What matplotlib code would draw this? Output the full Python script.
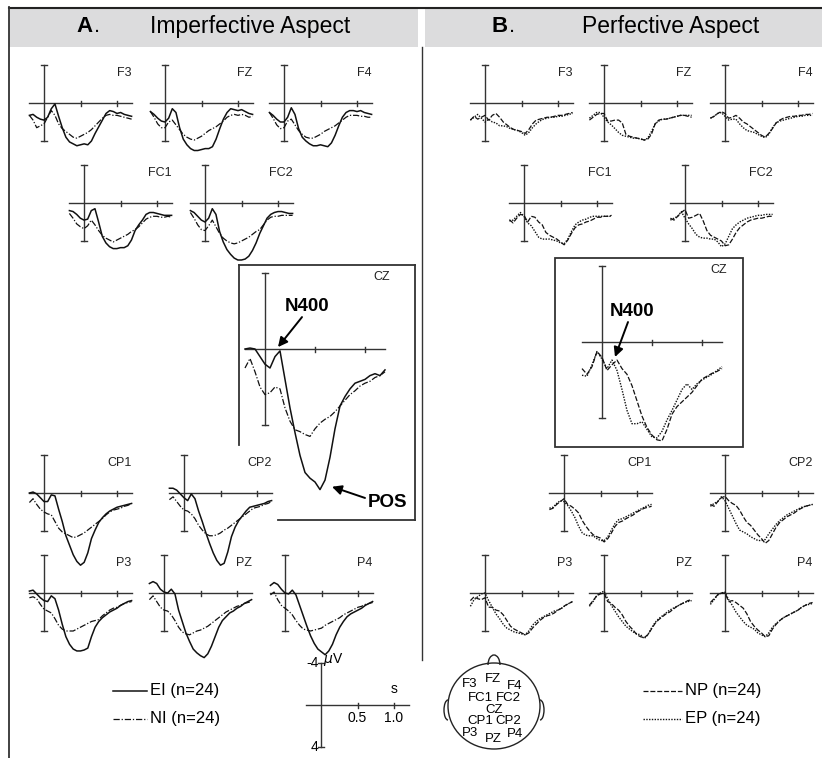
import matplotlib
matplotlib.use("Agg")
import matplotlib.pyplot as plt
from matplotlib.patches import Rectangle, Ellipse, Arc

plt.rcParams['font.family'] = ['Liberation Sans', 'DejaVu Sans']

# sample times (s)
T = [-0.2, -0.15, -0.1, -0.05, 0.0, 0.05, 0.1, 0.15, 0.2, 0.25, 0.3, 0.35, 0.4, 0.45,
     0.5, 0.55, 0.6, 0.65, 0.7, 0.75, 0.8, 0.85, 0.9, 0.95, 1.0, 1.05, 1.1, 1.15, 1.2]

# amplitudes in microvolts (negative up)
EI = {
    'F3': [1.3, 1.2, 1.5, 1.7, 1.8, 1.5, 0.6, 0.1, 1.4, 2.6, 3.6, 4.1, 4.3, 4.5, 4.4, 4.3, 4.4, 4.0, 3.2, 2.5, 1.8, 1.1, 0.8, 0.9, 1.1, 1.0, 1.2, 1.3, 1.4],
    'FZ': [0.9, 1.2, 1.6, 1.9, 2.0, 1.6, 0.6, 1.0, 2.6, 3.8, 4.4, 4.8, 5.0, 5.0, 4.9, 4.8, 4.8, 4.6, 3.8, 2.7, 1.7, 1.0, 0.6, 0.7, 0.8, 0.7, 0.9, 1.1, 1.2],
    'F4': [1.0, 1.3, 1.7, 2.0, 2.0, 1.5, 0.5, 1.2, 2.7, 3.6, 4.0, 4.3, 4.5, 4.5, 4.4, 4.5, 4.6, 4.2, 3.4, 2.4, 1.5, 1.0, 0.8, 0.8, 0.9, 0.8, 1.0, 1.1, 1.2],
    'FC1': [0.8, 0.9, 1.2, 1.6, 1.8, 1.7, 0.8, 0.6, 2.0, 3.5, 4.2, 4.6, 4.8, 4.8, 4.7, 4.7, 4.5, 3.9, 2.9, 2.3, 1.8, 1.2, 1.0, 1.0, 1.1, 1.2, 1.3, 1.3, 1.3],
    'FC2': [0.8, 1.0, 1.4, 1.8, 2.0, 1.6, 0.6, 1.2, 3.0, 4.1, 4.9, 5.4, 5.8, 6.0, 6.0, 5.9, 5.6, 5.0, 4.2, 3.2, 2.4, 1.6, 1.2, 1.0, 0.9, 0.9, 1.0, 1.1, 1.1],
    'CZ': [0.0, -0.05, 0.0, 0.4, 0.8, 1.0, 0.4, 0.1, 1.6, 3.1, 4.4, 5.6, 6.5, 6.8, 7.0, 7.4, 6.9, 5.7, 4.2, 3.0, 2.5, 2.1, 1.8, 1.7, 1.6, 1.4, 1.3, 1.4, 1.1],
    'CP1': [0.0, -0.1, 0.1, 0.5, 0.9, 0.9, 0.2, 0.3, 1.7, 3.0, 4.5, 5.5, 6.5, 7.2, 7.6, 7.3, 6.3, 4.8, 3.9, 3.1, 2.6, 2.2, 1.9, 1.7, 1.5, 1.4, 1.3, 1.2, 1.1],
    'CP2': [-0.5, -0.5, -0.3, 0.1, 0.5, 0.8, 0.1, 0.6, 1.9, 3.0, 4.2, 5.3, 6.3, 7.1, 7.6, 7.4, 6.2, 4.6, 3.6, 2.9, 2.4, 1.9, 1.5, 1.4, 1.3, 1.2, 1.1, 0.9, 0.8],
    'P3': [-0.2, -0.3, 0.1, 0.5, 0.8, 0.9, 0.3, 0.6, 1.8, 3.3, 4.6, 5.4, 5.9, 6.1, 6.1, 6.0, 5.8, 4.6, 3.6, 3.0, 2.6, 2.3, 2.0, 1.8, 1.6, 1.3, 1.1, 0.9, 0.8],
    'PZ': [-1.0, -1.2, -1.0, -0.4, -0.1, 0.0, -0.4, 0.1, 1.8, 3.0, 4.2, 5.1, 5.9, 6.3, 6.6, 6.8, 6.4, 5.6, 4.6, 3.6, 2.9, 2.5, 2.1, 1.9, 1.6, 1.4, 1.1, 0.9, 0.7],
    'P4': [-0.8, -1.1, -0.9, -0.4, 0.0, 0.1, -0.3, 0.2, 1.3, 2.4, 3.5, 4.5, 5.3, 5.9, 6.2, 6.5, 6.1, 5.4, 4.4, 3.6, 3.0, 2.5, 2.2, 2.0, 1.8, 1.6, 1.3, 1.1, 0.9],
}
NI = {
    'F3': [1.3, 1.8, 2.6, 2.4, 2.2, 1.5, 0.8, 1.3, 2.2, 2.7, 3.0, 3.3, 3.6, 3.7, 3.5, 3.3, 3.1, 2.8, 2.4, 2.0, 1.6, 1.3, 1.2, 1.3, 1.3, 1.4, 1.5, 1.6, 1.7],
    'FZ': [0.9, 1.5, 2.2, 2.6, 2.6, 2.0, 1.8, 2.3, 2.8, 3.3, 3.6, 3.8, 3.9, 3.7, 3.5, 3.2, 2.9, 2.7, 2.5, 2.2, 1.9, 1.5, 1.3, 1.2, 1.3, 1.2, 1.3, 1.5, 1.4],
    'F4': [1.0, 1.6, 2.3, 2.7, 2.6, 1.9, 1.7, 2.3, 2.9, 3.3, 3.6, 3.7, 3.7, 3.5, 3.3, 3.0, 2.8, 2.6, 2.4, 2.1, 1.8, 1.5, 1.3, 1.3, 1.3, 1.4, 1.4, 1.5, 1.5],
    'FC1': [1.1, 1.6, 2.2, 2.5, 2.7, 2.4, 1.8, 2.3, 2.9, 3.4, 3.7, 3.9, 4.1, 3.9, 3.7, 3.5, 3.3, 3.0, 2.8, 2.5, 2.1, 1.7, 1.5, 1.4, 1.4, 1.5, 1.5, 1.4, 1.5],
    'FC2': [1.0, 1.6, 2.3, 2.8, 2.9, 2.4, 1.8, 2.5, 3.2, 3.7, 4.0, 4.2, 4.3, 4.2, 4.0, 3.8, 3.6, 3.3, 3.0, 2.8, 2.3, 1.8, 1.5, 1.4, 1.4, 1.3, 1.3, 1.3, 1.3],
    'CZ': [1.0, 0.5, 1.2, 2.0, 2.4, 2.3, 2.0, 2.1, 3.1, 3.8, 4.25, 4.35, 4.5, 4.6, 4.2, 3.9, 3.7, 3.55, 3.3, 3.0, 2.7, 2.4, 2.2, 1.95, 1.8, 1.7, 1.5, 1.4, 1.2],
    'CP1': [1.0, 0.6, 1.2, 1.7, 2.0, 2.2, 2.3, 3.0, 3.7, 4.1, 4.3, 4.5, 4.7, 4.6, 4.4, 4.2, 3.9, 3.6, 3.3, 3.0, 2.7, 2.3, 2.0, 1.8, 1.7, 1.6, 1.4, 1.3, 1.1],
    'CP2': [0.7, 0.4, 0.9, 1.4, 1.8, 1.9, 2.2, 2.7, 3.4, 3.9, 4.3, 4.5, 4.5, 4.4, 4.2, 3.9, 3.7, 3.4, 3.1, 2.8, 2.5, 2.2, 1.9, 1.6, 1.5, 1.4, 1.2, 1.1, 0.9],
    'P3': [0.5, 0.4, 0.6, 1.2, 1.7, 1.9, 2.1, 2.7, 3.4, 3.8, 4.0, 4.0, 4.0, 3.8, 3.6, 3.4, 3.2, 3.0, 2.9, 2.8, 2.4, 2.1, 1.8, 1.6, 1.5, 1.3, 1.1, 1.0, 0.9],
    'PZ': [0.7, 0.3, 0.9, 1.5, 1.8, 1.9, 2.3, 2.9, 3.6, 4.1, 4.3, 4.4, 4.2, 4.0, 3.9, 3.7, 3.5, 3.2, 2.9, 2.6, 2.3, 2.0, 1.8, 1.6, 1.4, 1.3, 1.1, 1.0, 0.9],
    'P4': [0.2, -0.1, 0.7, 1.3, 1.6, 1.9, 2.3, 2.9, 3.4, 3.8, 3.9, 4.0, 3.9, 3.8, 3.7, 3.4, 3.2, 3.0, 2.8, 2.6, 2.3, 2.1, 1.9, 1.7, 1.5, 1.4, 1.2, 1.1, 1.0],
}
NP = {
    'F3': [1.8, 1.4, 1.7, 1.5, 1.3, 1.8, 1.3, 1.1, 1.5, 2.0, 2.3, 2.6, 2.8, 2.9, 3.0, 3.2, 2.8, 2.2, 1.8, 1.7, 1.6, 1.5, 1.5, 1.4, 1.3, 1.3, 1.2, 1.1, 1.0],
    'FZ': [1.8, 1.5, 1.2, 1.1, 1.1, 1.9, 1.9, 1.8, 1.8, 2.1, 3.3, 3.5, 3.6, 3.7, 3.75, 3.9, 3.8, 3.3, 2.2, 1.8, 1.7, 1.7, 1.6, 1.5, 1.4, 1.3, 1.3, 1.4, 1.5],
    'F4': [1.6, 1.4, 1.1, 0.9, 1.1, 1.6, 1.5, 1.3, 1.6, 2.0, 2.2, 2.5, 2.8, 3.1, 3.4, 3.6, 3.2, 2.7, 2.1, 1.8, 1.6, 1.5, 1.4, 1.4, 1.3, 1.3, 1.2, 1.2, 1.1],
    'FC1': [1.75, 2.1, 1.6, 1.2, 1.3, 2.0, 1.4, 1.5, 2.0, 2.3, 3.1, 3.4, 3.6, 3.8, 4.1, 4.4, 3.9, 3.2, 2.6, 2.3, 2.2, 2.0, 1.9, 1.7, 1.5, 1.5, 1.4, 1.4, 1.3],
    'FC2': [1.6, 1.8, 1.4, 1.0, 0.7, 1.6, 1.5, 1.3, 1.1, 1.9, 2.9, 3.4, 3.6, 3.8, 4.0, 4.5, 4.4, 3.8, 3.1, 2.6, 2.3, 2.0, 1.8, 1.7, 1.6, 1.6, 1.5, 1.4, 1.4],
    'CZ': [1.4, 1.7, 1.3, 0.5, 0.8, 1.5, 1.2, 0.95, 1.4, 1.7, 2.3, 3.1, 3.9, 4.5, 4.9, 5.15, 5.2, 4.6, 3.8, 3.4, 3.15, 2.9, 2.65, 2.3, 1.95, 1.8, 1.65, 1.55, 1.4],
    'CP1': [1.75, 1.6, 1.2, 0.9, 0.6, 1.2, 1.4, 1.7, 2.1, 2.9, 3.5, 4.0, 4.4, 4.6, 4.75, 5.15, 4.8, 4.2, 3.5, 3.1, 2.95, 2.7, 2.5, 2.3, 2.0, 1.8, 1.6, 1.5, 1.4],
    'CP2': [1.2, 1.4, 0.9, 0.5, 0.35, 0.8, 1.1, 1.3, 1.8, 2.5, 3.1, 3.4, 3.9, 4.4, 4.8, 5.3, 5.0, 4.3, 3.6, 3.1, 2.8, 2.5, 2.3, 2.1, 1.8, 1.6, 1.4, 1.3, 1.2],
    'P3': [0.8, 0.4, 0.6, 0.7, 0.5, 1.5, 1.5, 1.8, 1.9, 2.3, 2.9, 3.5, 3.8, 4.0, 4.2, 4.4, 4.2, 3.7, 3.3, 2.9, 2.6, 2.4, 2.3, 2.1, 1.8, 1.6, 1.3, 1.1, 0.9],
    'PZ': [1.3, 0.8, 0.3, 0.1, 0.0, 0.9, 1.1, 1.5, 1.8, 2.3, 3.0, 3.5, 3.9, 4.4, 4.6, 4.7, 4.4, 3.8, 3.2, 2.8, 2.5, 2.2, 2.0, 1.7, 1.4, 1.2, 1.0, 0.8, 0.7],
    'P4': [1.0, 0.6, 0.2, 0.0, 0.0, 0.9, 0.8, 1.0, 1.3, 1.6, 2.2, 3.0, 3.5, 3.9, 4.2, 4.6, 4.5, 3.8, 3.3, 2.9, 2.6, 2.4, 2.2, 2.0, 1.8, 1.5, 1.3, 1.1, 1.0],
}
EP = {
    'F3': [1.8, 1.5, 1.2, 1.6, 2.0, 1.7, 2.0, 2.1, 2.4, 2.4, 2.5, 2.7, 2.8, 2.9, 3.1, 3.4, 3.1, 2.6, 2.2, 1.9, 1.7, 1.6, 1.5, 1.5, 1.4, 1.4, 1.3, 1.2, 1.1],
    'FZ': [1.6, 1.3, 1.0, 1.0, 1.5, 2.0, 2.3, 2.7, 3.1, 3.4, 3.5, 3.6, 3.7, 3.7, 3.8, 3.9, 3.7, 3.0, 2.2, 1.9, 1.7, 1.7, 1.6, 1.5, 1.4, 1.3, 1.3, 1.3, 1.3],
    'F4': [1.6, 1.4, 1.1, 1.0, 1.4, 1.8, 1.7, 1.7, 2.2, 2.6, 2.9, 3.0, 3.1, 3.3, 3.5, 3.65, 3.3, 2.6, 2.1, 1.9, 1.8, 1.7, 1.6, 1.5, 1.4, 1.4, 1.3, 1.3, 1.3],
    'FC1': [1.9, 1.8, 1.4, 1.0, 1.4, 2.1, 2.4, 3.0, 3.6, 3.8, 3.8, 3.8, 3.9, 4.0, 4.2, 4.3, 3.8, 3.0, 2.3, 2.0, 1.8, 1.7, 1.5, 1.4, 1.4, 1.4, 1.4, 1.4, 1.4],
    'FC2': [1.8, 1.6, 1.4, 0.9, 1.6, 2.2, 2.7, 3.3, 3.6, 3.7, 3.7, 3.8, 3.8, 4.1, 4.6, 4.3, 3.5, 2.7, 2.3, 2.0, 1.8, 1.6, 1.5, 1.4, 1.3, 1.3, 1.2, 1.2, 1.2],
    'CZ': [1.75, 1.8, 1.2, 0.5, 0.9, 1.4, 0.95, 1.5, 2.5, 3.6, 4.3, 4.3, 4.2, 4.6, 5.0, 5.05, 4.7, 4.1, 3.6, 3.05, 2.5, 2.2, 2.5, 2.2, 2.0, 1.85, 1.7, 1.5, 1.3],
    'CP1': [1.6, 1.5, 1.1, 0.8, 0.9, 1.3, 1.9, 2.6, 3.5, 4.2, 4.45, 4.5, 4.5, 4.8, 5.0, 5.0, 4.6, 3.9, 3.2, 2.8, 2.7, 2.5, 2.3, 2.1, 1.9, 1.7, 1.5, 1.3, 1.2],
    'CP2': [1.4, 1.1, 0.9, 0.4, 0.8, 1.6, 2.4, 3.2, 3.9, 4.1, 4.3, 4.6, 4.8, 5.0, 5.0, 4.9, 4.3, 3.8, 3.3, 2.9, 2.6, 2.3, 2.1, 1.9, 1.7, 1.5, 1.4, 1.3, 1.2],
    'P3': [1.4, 0.7, 0.4, 0.1, 0.0, 0.8, 1.5, 2.2, 2.7, 3.3, 3.7, 3.9, 4.1, 4.2, 4.3, 4.4, 4.0, 3.4, 3.0, 2.7, 2.5, 2.3, 2.1, 1.9, 1.8, 1.6, 1.3, 1.1, 0.9],
    'PZ': [1.4, 0.9, 0.3, 0.0, -0.2, 0.6, 1.3, 1.9, 2.5, 3.0, 3.5, 3.8, 4.1, 4.3, 4.4, 4.8, 4.4, 3.7, 3.1, 2.7, 2.4, 2.1, 1.8, 1.6, 1.4, 1.2, 1.0, 0.9, 0.8],
    'P4': [1.2, 0.7, 0.2, 0.0, -0.1, 0.7, 1.3, 2.0, 2.5, 3.0, 3.4, 3.6, 3.8, 4.2, 4.4, 4.6, 4.2, 3.6, 3.2, 2.9, 2.6, 2.4, 2.2, 2.0, 1.8, 1.5, 1.3, 1.2, 1.1],
}

W, H = 822, 758
AXC = '#333333'
SMALL = (73.0, 9.5)    # px per s, px per uV
BIG = (100.0, 19.0)

# panel origins in pixels (t=0, v=0)
POS_A = {'F3': (44, 103), 'FZ': (165, 103), 'F4': (284, 103),
         'FC1': (84, 203), 'FC2': (205, 203), 'CZ': (265, 349),
         'CP1': (44, 493), 'CP2': (184, 493),
         'P3': (44, 593), 'PZ': (164, 593), 'P4': (285, 593)}
POS_B = {'F3': (485, 103), 'FZ': (604, 103), 'F4': (725, 103),
         'FC1': (524, 203), 'FC2': (685, 203), 'CZ': (602, 342),
         'CP1': (564, 493), 'CP2': (725, 493),
         'P3': (485, 593), 'PZ': (604, 593), 'P4': (725, 593)}

STY = {'EI': dict(ls='-', lw=1.1), 'NI': dict(ls=(0, (5, 1.5, 1, 1.5)), lw=0.9),
       'NP': dict(ls=(0, (4, 1.5)), lw=0.9), 'EP': dict(ls=(0, (1, 1)), lw=1.0)}

fig = plt.figure(figsize=(8.22, 7.58), dpi=100)
bg = fig.add_axes([0, 0, 1, 1])
bg.set_xlim(0, W)
bg.set_ylim(H, 0)
bg.axis('off')


def panel(x0, y0, sx, sy):
    t0, t1, v0, v1 = -0.3, 1.3, -5.0, 10.0
    top = y0 + v0 * sy
    bot = y0 + v1 * sy
    ax = fig.add_axes([(x0 + t0 * sx) / W, 1 - bot / H, (t1 - t0) * sx / W, (bot - top) / H])
    ax.set_xlim(t0, t1)
    ax.set_ylim(v1, v0)
    ax.axis('off')
    # axes: time line and I-beam voltage line
    cap = 3.0 / sx
    tk = 2.5 / sy
    ax.plot([-0.2, 1.2], [0, 0], color=AXC, lw=1.0)
    ax.plot([0, 0], [-4, 4], color=AXC, lw=1.0)
    for v in (-4, 4):
        ax.plot([-cap, cap], [v, v], color=AXC, lw=1.0)
    for t in (0.5, 1.0):
        ax.plot([t, t], [-tk, tk], color=AXC, lw=1.0)
    return ax


def draw(pos, conds):
    axes = {}
    for name, (x0, y0) in pos.items():
        sx, sy = BIG if name == 'CZ' else SMALL
        ax = panel(x0, y0, sx, sy)
        for cname, data in conds:
            ax.plot(T, data[name], color='#111111', clip_on=False, **STY[cname])
        if name == 'CZ':
            ax.text(1.25, -72 / sy, name, ha='right', va='center', fontsize=9, color='#222222')
        else:
            ax.text(1.2, -30 / sy, name, ha='right', va='center', fontsize=9, color='#222222')
        axes[name] = ax
    return axes


axA = draw(POS_A, [('NI', NI), ('EI', EI)])
axB = draw(POS_B, [('NP', NP), ('EP', EP)])

# header
bg.add_patch(Rectangle((9, 8), 409, 39, fc='#dcdcdd', ec='none'))
bg.add_patch(Rectangle((425, 8), 397, 39, fc='#dcdcdd', ec='none'))
bg.plot([9, 822], [7.5, 7.5], color='#222222', lw=1.5)
bg.plot([9, 9], [7, 758], color='#333333', lw=1.3)
bg.plot([422, 422], [47, 660], color='#333333', lw=1.0)
bg.text(76, 27, 'A', fontsize=16, fontweight='bold', va='center')
bg.text(94, 27, '.', fontsize=16, va='center')
bg.text(150, 27, 'Imperfective Aspect', fontsize=16.5, va='center')
bg.text(491, 27, 'B', fontsize=16, fontweight='bold', va='center')
bg.text(509, 27, '.', fontsize=16, va='center')
bg.text(582, 27, 'Perfective Aspect', fontsize=16.5, va='center')

# CZ frames
kw = dict(color='#333333', lw=1.3)
bg.plot([239, 239], [265, 445], **kw)
bg.plot([239, 415], [265, 265], **kw)
bg.plot([415, 415], [265, 520], **kw)
bg.plot([278, 415], [520, 520], **kw)
bg.add_patch(Rectangle((555, 258), 188, 189, fc='none', ec='#333333', lw=1.3))

# annotations
arw = dict(arrowstyle='-|>', color='black', lw=1.4, mutation_scale=14, shrinkA=0, shrinkB=0)
a = axA['CZ']
a.text(0.42, -2.26, 'N400', ha='center', va='center', fontsize=13.5, fontweight='bold')
a.annotate('', xy=(0.13, -0.1), xytext=(0.37, -1.68), arrowprops=arw)
a.text(1.22, 8.1, 'POS', ha='center', va='center', fontsize=13.5, fontweight='bold')
a.annotate('', xy=(0.67, 7.25), xytext=(1.0, 7.84), arrowprops=arw)
b = axB['CZ']
b.text(0.30, -1.63, 'N400', ha='center', va='center', fontsize=13.5, fontweight='bold')
b.annotate('', xy=(0.13, 0.79), xytext=(0.26, -1.05), arrowprops=arw)

# legend
bg.plot([113, 147], [691, 691], color='#111111', **STY['EI'])
bg.plot([113, 147], [719, 719], color='#111111', **STY['NI'])
bg.text(150, 691, 'EI (n=24)', fontsize=12, va='center')
bg.text(150, 719, 'NI (n=24)', fontsize=12, va='center')
bg.plot([643, 682], [691, 691], color='#111111', **STY['NP'])
bg.plot([643, 682], [719, 719], color='#111111', **STY['EP'])
bg.text(685, 691, 'NP (n=24)', fontsize=12, va='center')
bg.text(685, 719, 'EP (n=24)', fontsize=12, va='center')

# calibration
sc = panel(321, 705, 73.0, 10.5)
sc.text(-0.03, -4, '-4', ha='right', va='center', fontsize=10)
sc.text(0.03, -4.3, r'$\mu$V', ha='left', va='center', fontsize=10)
sc.text(-0.03, 4, '4', ha='right', va='center', fontsize=10)
sc.text(1.0, -0.9, 's', ha='center', va='bottom', fontsize=10)
sc.text(0.5, 0.6, '0.5', ha='center', va='top', fontsize=10)
sc.text(1.0, 0.6, '1.0', ha='center', va='top', fontsize=10)

# head map
bg.add_patch(Ellipse((494, 706), 92, 86, fc='none', ec='#222222', lw=1.0))
bg.add_patch(Arc((494, 665), 12, 20, theta1=180, theta2=360, color='#222222', lw=1.0))
bg.add_patch(Arc((448, 710), 8, 20, theta1=90, theta2=270, color='#222222', lw=1.0))
bg.add_patch(Arc((540, 710), 8, 20, theta1=-90, theta2=90, color='#222222', lw=1.0))
HEAD = {'F3': (470, 684), 'FZ': (493, 679), 'F4': (515, 686), 'FC1': (480, 698),
        'FC2': (508, 698), 'CZ': (494, 710), 'CP1': (480, 721), 'CP2': (508, 721),
        'P3': (470, 733), 'PZ': (493, 739), 'P4': (515, 734)}
for k, (x, y) in HEAD.items():
    bg.text(x, y, k, ha='center', va='center', fontsize=9.5)

fig.savefig('out.png', dpi=100)
